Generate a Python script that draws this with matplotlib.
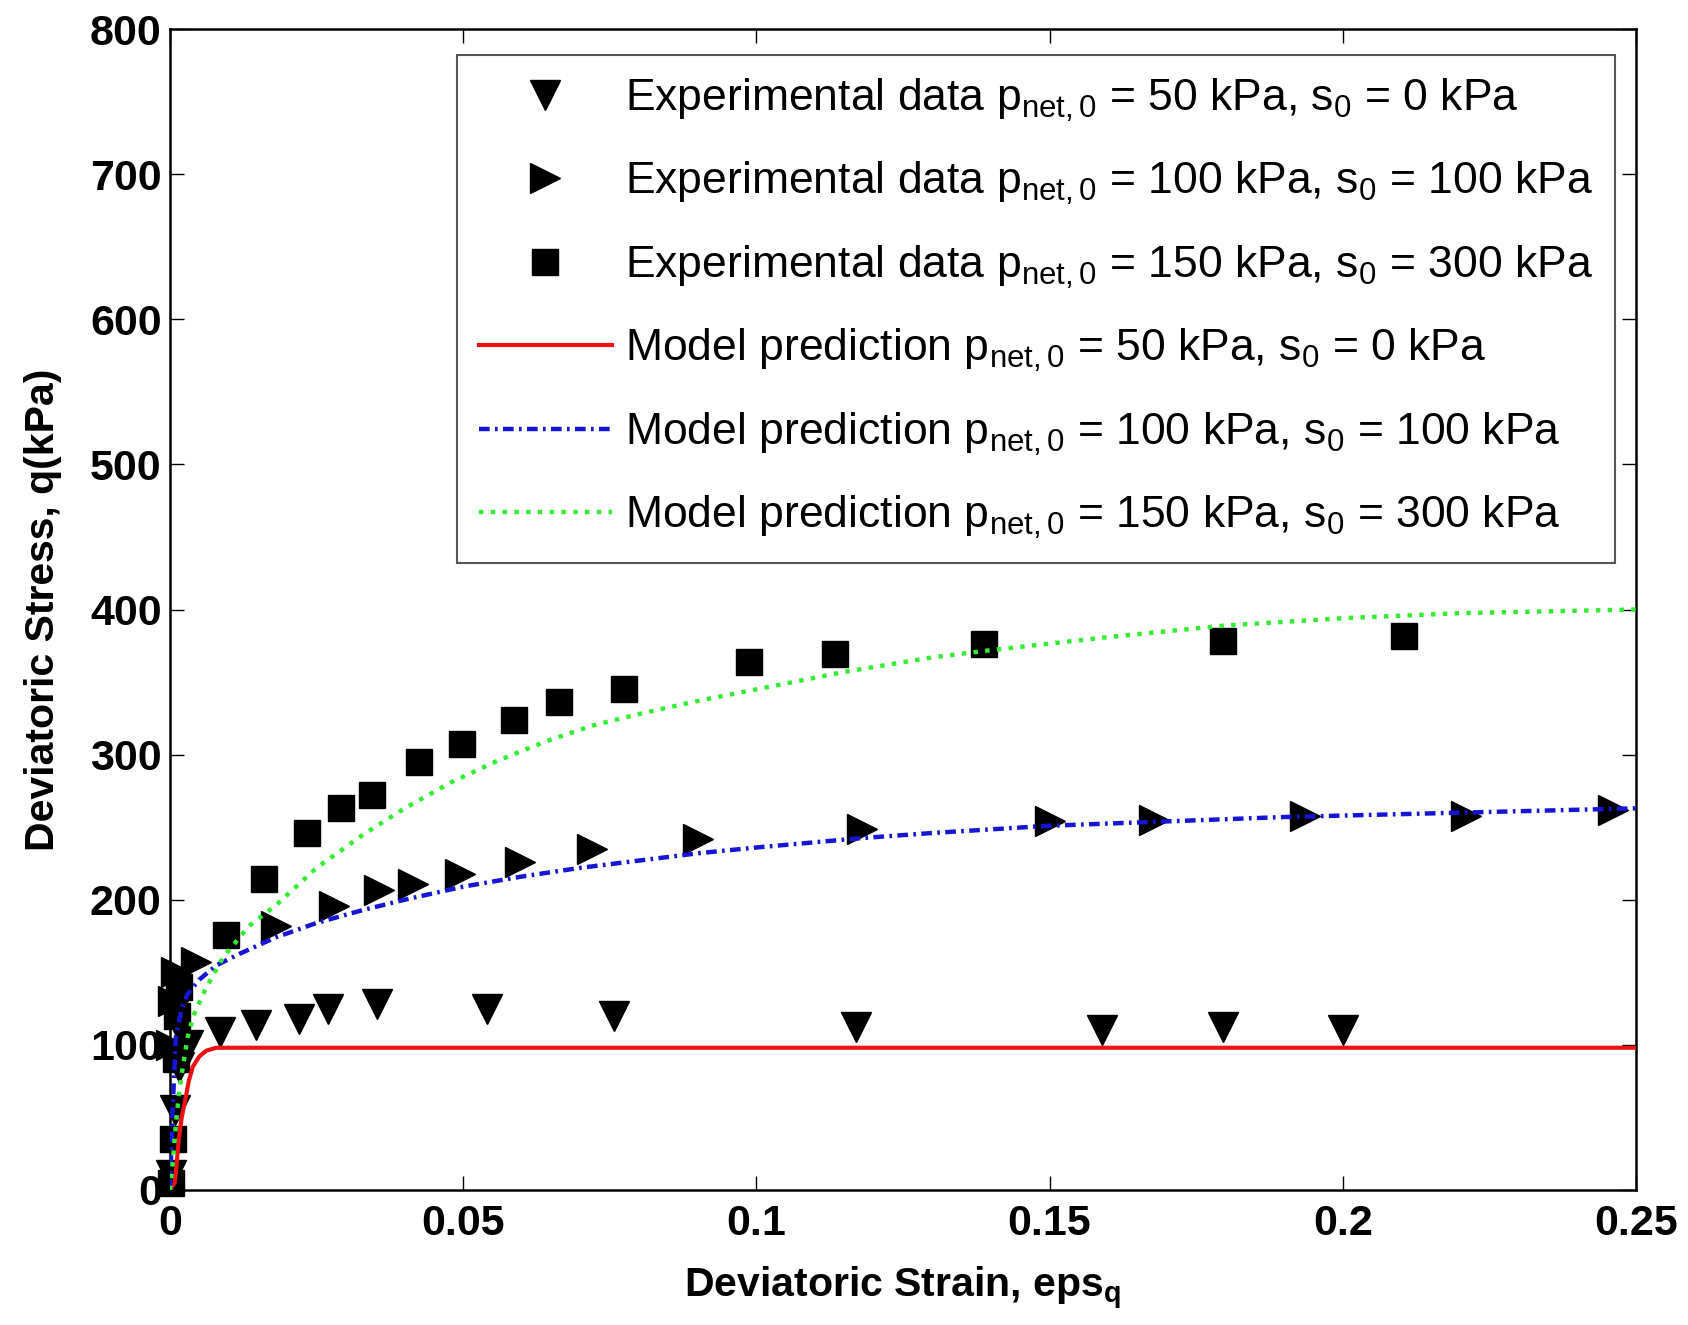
import matplotlib
matplotlib.use("Agg")
import matplotlib.pyplot as plt

plt.rcParams['font.family'] = ['Liberation Sans', 'DejaVu Sans']
plt.rcParams['mathtext.fontset'] = 'custom'
plt.rcParams['mathtext.rm'] = 'Liberation Sans'
plt.rcParams['mathtext.it'] = 'Liberation Sans'
plt.rcParams['mathtext.bf'] = 'Liberation Sans:bold'

# ---- data ----
# Experimental, p_net0 = 50 kPa, s0 = 0 kPa
exp50_x = [0.0002, 0.0008, 0.0015, 0.003, 0.0085, 0.0147, 0.022, 0.027, 0.0353, 0.054, 0.0757, 0.117, 0.159, 0.1796, 0.200]
exp50_y = [10, 55, 85, 100, 109, 114, 118, 125, 128, 125, 120, 112, 110, 112, 110]
# Experimental, p_net0 = 100 kPa, s0 = 100 kPa
exp100_x = [0.0002, 0.0005, 0.001, 0.0045, 0.018, 0.028, 0.0357, 0.0414, 0.0494, 0.0597, 0.072, 0.090, 0.118, 0.150, 0.1678, 0.1936, 0.221, 0.246]
exp100_y = [100, 130, 150, 157, 182, 196, 207, 211, 218, 226, 235, 242, 249, 254, 255, 257.5, 257.5, 262]
# Experimental, p_net0 = 150 kPa, s0 = 300 kPa
exp150_x = [0.0002, 0.0005, 0.001, 0.0012, 0.0015, 0.0095, 0.016, 0.0234, 0.0292, 0.0344, 0.0425, 0.0498, 0.0586, 0.0664, 0.0775, 0.0987, 0.1134, 0.1388, 0.1796, 0.2105]
exp150_y = [5, 35, 90, 120, 140, 176, 214, 246, 263, 272, 295, 307, 324, 336, 345, 364, 369, 376, 378, 382]

# Model predictions
mod50_x = [0, 0.0008, 0.0011, 0.0015, 0.002, 0.0026, 0.0032, 0.0039, 0.005, 0.0062, 0.0079, 0.25]
mod50_y = [0, 5, 16, 35, 50, 62, 75, 85, 92, 96, 98, 98]
mod100_x = [0, 0.0005, 0.001, 0.002, 0.003, 0.005, 0.008, 0.012, 0.018, 0.025, 0.033, 0.04, 0.05, 0.06, 0.07, 0.08, 0.09, 0.10, 0.118, 0.13, 0.15, 0.17, 0.19, 0.21, 0.23, 0.25]
mod100_y = [0, 60, 105, 125, 135, 145, 155, 163, 174, 184, 193, 200, 209, 216, 222, 227, 232, 236, 242.5, 246, 251, 254, 257, 259, 261, 263]
mod150_x = [0, 0.0005, 0.001, 0.0015, 0.002, 0.003, 0.004, 0.006, 0.009, 0.0135, 0.018, 0.025, 0.033, 0.04, 0.048, 0.056, 0.064, 0.072, 0.08, 0.09, 0.10, 0.115, 0.13, 0.14, 0.16, 0.18, 0.20, 0.22, 0.25]
mod150_y = [0, 20, 45, 65, 80, 105, 120, 138, 160, 182, 196, 222, 245, 263, 281, 296, 309, 320, 328, 337, 345, 357, 367, 372, 381, 389, 394, 397.5, 400]

x_ticks = [0, 0.05, 0.1, 0.15, 0.2, 0.25]
x_ticklabels = ['0', '0.05', '0.1', '0.15', '0.2', '0.25']
y_ticks = [0, 100, 200, 300, 400, 500, 600, 700, 800]

labels = [
    r'Experimental data $\mathregular{p_{net,0}}$ = 50 kPa, $\mathregular{s_0}$ = 0 kPa',
    r'Experimental data $\mathregular{p_{net,0}}$ = 100 kPa, $\mathregular{s_0}$ = 100 kPa',
    r'Experimental data $\mathregular{p_{net,0}}$ = 150 kPa, $\mathregular{s_0}$ = 300 kPa',
    r'Model prediction $\mathregular{p_{net,0}}$ = 50 kPa, $\mathregular{s_0}$ = 0 kPa',
    r'Model prediction $\mathregular{p_{net,0}}$ = 100 kPa, $\mathregular{s_0}$ = 100 kPa',
    r'Model prediction $\mathregular{p_{net,0}}$ = 150 kPa, $\mathregular{s_0}$ = 300 kPa',
]

fig = plt.figure(figsize=(16.88, 13.25), dpi=100)
ax = fig.add_axes([0.1007, 0.1019, 0.8685, 0.8762])

h1, = ax.plot(exp50_x, exp50_y, 'v', color='black', ms=22, ls='none', clip_on=False, zorder=3)
h2, = ax.plot(exp100_x, exp100_y, '>', color='black', ms=22, ls='none', clip_on=False, zorder=3)
h3, = ax.plot(exp150_x, exp150_y, 's', color='black', ms=19, ls='none', clip_on=False, zorder=3)
h4, = ax.plot(mod50_x, mod50_y, '-', color='#ee1111', lw=3, zorder=4)
h5, = ax.plot(mod100_x, mod100_y, '-.', color='#1515d5', lw=3.2, zorder=4,
              dashes=[2.4, 1.2, 0.6, 1.2])
h6, = ax.plot(mod150_x, mod150_y, ':', color='#33ee33', lw=3.2, zorder=4)

ax.set_xlim(0, 0.25)
ax.set_ylim(0, 800)
ax.set_xticks(x_ticks)
ax.set_xticklabels(x_ticklabels)
ax.set_yticks(y_ticks)
ax.tick_params(direction='in', top=True, right=True, length=10, width=1, labelsize=31)
ax.tick_params(axis='x', pad=10)
ax.tick_params(axis='y', pad=6)
for lab in ax.get_xticklabels() + ax.get_yticklabels():
    lab.set_fontweight('bold')
for s in ax.spines.values():
    s.set_linewidth(1.8)

ax.set_xlabel(r'Deviatoric Strain, eps$_\mathbf{q}$', fontsize=29.5, fontweight='bold', labelpad=15)
ax.set_ylabel('Deviatoric Stress, q(kPa)', fontsize=29.5, fontweight='bold', labelpad=20)

leg = ax.legend([h1, h2, h3, h4, h5, h6], labels, loc='upper right',
                bbox_to_anchor=(0.986, 0.978), borderaxespad=0, fontsize=32,
                handlelength=3.0, handletextpad=0.3, labelspacing=0.82,
                fancybox=False, framealpha=1, edgecolor='#555555', borderpad=0.5)
leg.get_frame().set_linewidth(1.5)

fig.savefig('out.png', dpi=100)
